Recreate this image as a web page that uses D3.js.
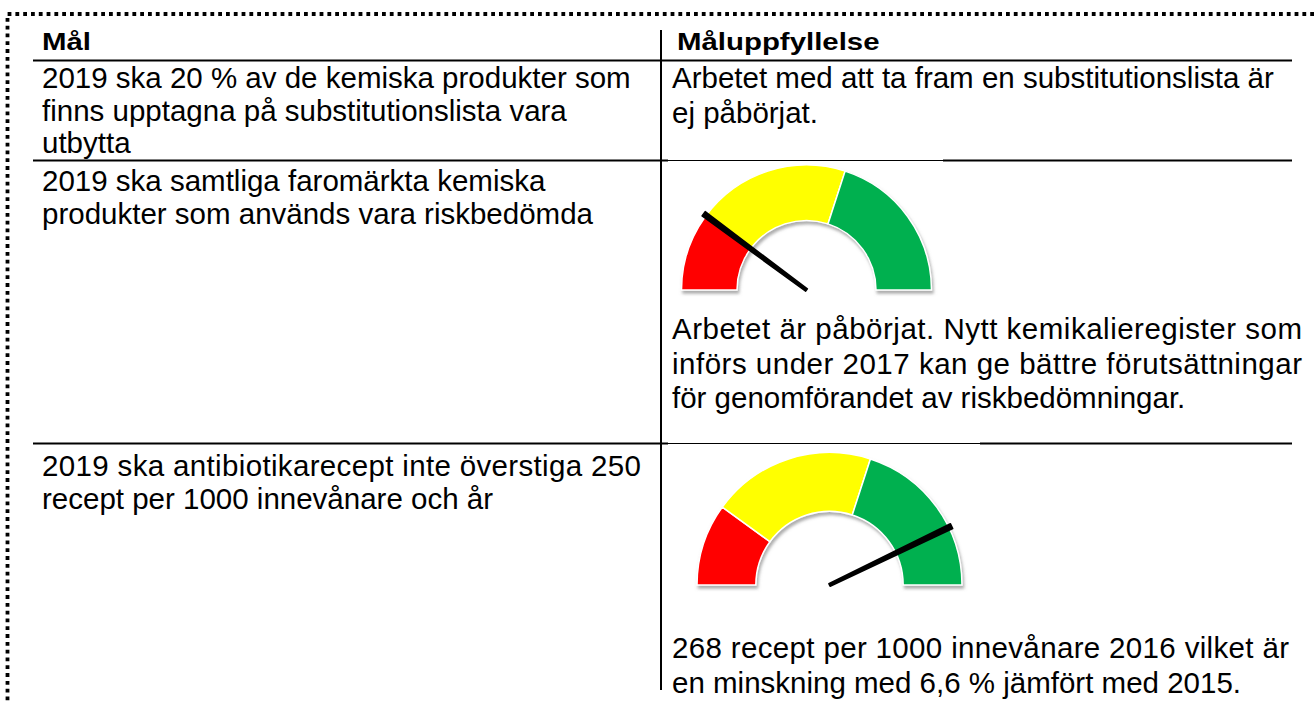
<!DOCTYPE html>
<html>
<head>
<meta charset="utf-8">
<script src="https://cdn.jsdelivr.net/npm/d3@7"></script>
<style>
  body { margin: 0; background: #fff; }
  svg text { font-family: "Liberation Sans", Arial, sans-serif; fill: #000; }
</style>
</head>
<body>
<div id="chart"></div>
<script>
// table content
var headers = ["Mål", "Måluppfyllelse"];

var goals = [
    ["2019 ska 20 % av de kemiska produkter som", "finns upptagna på substitutionslista vara", "utbytta"],
    ["2019 ska samtliga faromärkta kemiska", "produkter som används vara riskbedömda"],
    ["2019 ska antibiotikarecept inte överstiga 250", "recept per 1000 innevånare och år"]
];

var outcomes = [
    ["Arbetet med att ta fram en substitutionslista är", "ej påbörjat."],
    ["Arbetet är påbörjat. Nytt kemikalieregister som", "införs under 2017 kan ge bättre förutsättningar", "för genomförandet av riskbedömningar."],
    ["268 recept per 1000 innevånare 2016 vilket är", "en minskning med 6,6 % jämfört med 2015."]
];

// gauge zones (share of the half circle) and needle values per row
var zoneBreaks = [0, 0.2, 0.6, 1];
var zoneColors = ["#ff0000", "#ffff00", "#00b050"];
var gaugeValues = [null, 0.203, 0.857];

(function() {
    var width = 1314,
        height = 701;

    var svg = d3.select("#chart")
        .append("svg")
        .attr("width", width)
        .attr("height", height);

    var defs = svg.append("defs");
    var shadow = defs.append("filter")
        .attr("id", "shadow")
        .attr("x", "-20%").attr("y", "-20%")
        .attr("width", "140%").attr("height", "150%");
    shadow.append("feDropShadow")
        .attr("dx", 1.5).attr("dy", 3)
        .attr("stdDeviation", 1.6)
        .attr("flood-color", "#777")
        .attr("flood-opacity", 0.6);

    // dotted frame
    svg.append("path")
        .attr("d", "M1314,14 H7.5 V701")
        .attr("fill", "none")
        .attr("stroke", "#000")
        .attr("stroke-width", 3.8)
        .attr("stroke-dasharray", "3.8 4");

    var leftX = 42,
        rightX = 672,
        divX = 661,
        lineL = 33,
        lineR = 1292;

    // grid lines
    svg.append("line")
        .attr("x1", divX).attr("x2", divX)
        .attr("y1", 30).attr("y2", 690)
        .attr("stroke", "#000").attr("stroke-width", 2);

    var rules = [
        {y: 60.5, x1: lineL, x2: lineR, w: 2.2},
        {y: 160.5, x1: lineL, x2: 668, w: 2},
        {y: 160.5, x1: 668, x2: 943, w: 1.2},
        {y: 160.5, x1: 943, x2: lineR, w: 2.2},
        {y: 443.5, x1: lineL, x2: 668, w: 2},
        {y: 443.5, x1: 668, x2: 980, w: 1.2},
        {y: 443.5, x1: 980, x2: lineR, w: 2.2}
    ];
    svg.selectAll(".rule")
        .data(rules)
        .enter().append("line")
        .attr("class", "rule")
        .attr("x1", function(d) { return d.x1 })
        .attr("x2", function(d) { return d.x2 })
        .attr("y1", function(d) { return d.y })
        .attr("y2", function(d) { return d.y })
        .attr("stroke", "#000")
        .attr("stroke-width", function(d) { return d.w });

    // headers (bold, a bit flattened like the source)
    svg.selectAll(".head")
        .data(headers)
        .enter().append("text")
        .attr("class", "head")
        .attr("transform", function(d, i) {
            return "translate(" + (i == 0 ? leftX : rightX + 5) + ",50) scale(1,0.84)"
        })
        .attr("font-size", 29.4)
        .attr("font-weight", "bold")
        .text(function(d) { return d });

    var goalBase = [88, 191, 476],
        outcomeBase = [88, 339, 658];

    // some lines in the source are spread out (justified) to these widths
    var spreadGoal = {"2-0": 599},
        spreadOutcome = {"1-0": 630, "1-1": 630, "2-0": 617};

    function spread(sel, r, table) {
        sel.each(function(d, i) {
            var w = table[r + "-" + i];
            if (w) d3.select(this).attr("textLength", w).attr("lengthAdjust", "spacing");
        });
    }

    goals.forEach(function(lines, r) {
        svg.selectAll(".goal" + r)
            .data(lines)
            .enter().append("text")
            .attr("x", leftX)
            .attr("y", function(d, i) { return goalBase[r] + i * 32.5 })
            .attr("font-size", 29.5)
            .text(function(d) { return d })
            .call(spread, r, spreadGoal);
    });

    outcomes.forEach(function(lines, r) {
        svg.selectAll(".outcome" + r)
            .data(lines)
            .enter().append("text")
            .attr("x", rightX)
            .attr("y", function(d, i) { return outcomeBase[r] + i * 34.5 })
            .attr("font-size", 29.5)
            .text(function(d) { return d })
            .call(spread, r, spreadOutcome);
    });

    // gauges
    var gaugePos = [null, {x: 806.5, y: 290, r: 125}, {x: 829.5, y: 585, r: 132.5}];
    var angle = d3.scaleLinear().domain([0, 1]).range([-Math.PI / 2, Math.PI / 2]);
    var arc = d3.arc();

    gaugeValues.forEach(function(v, r) {
        if (v == null) return;
        var p = gaugePos[r];
        var g = svg.append("g")
            .attr("transform", "translate(" + p.x + "," + p.y + ")");

        g.append("g")
            .attr("filter", "url(#shadow)")
            .selectAll("path")
            .data(zoneColors)
            .enter().append("path")
            .attr("d", function(d, i) {
                return arc({
                    innerRadius: p.r * 0.556,
                    outerRadius: p.r,
                    startAngle: angle(zoneBreaks[i]),
                    endAngle: angle(zoneBreaks[i + 1])
                })
            })
            .attr("fill", function(d) { return d })
            .attr("stroke", "#fff")
            .attr("stroke-width", 1.5);

        // tapered needle
        var a = angle(v),
            len = p.r + 3,
            dx = Math.sin(a), dy = -Math.cos(a),
            px = Math.cos(a), py = Math.sin(a);
        var pts = [
            [px * 1.4, py * 1.4],
            [dx * len + px * 2.6, dy * len + py * 2.6],
            [dx * len - px * 2.6, dy * len - py * 2.6],
            [-px * 1.4, -py * 1.4]
        ];
        g.append("path")
            .attr("d", d3.line()(pts) + "Z")
            .attr("fill", "#000")
            .attr("stroke", "#000")
            .attr("stroke-width", 1.6)
            .attr("stroke-linejoin", "round");
    });
})();
</script>
</body>
</html>
